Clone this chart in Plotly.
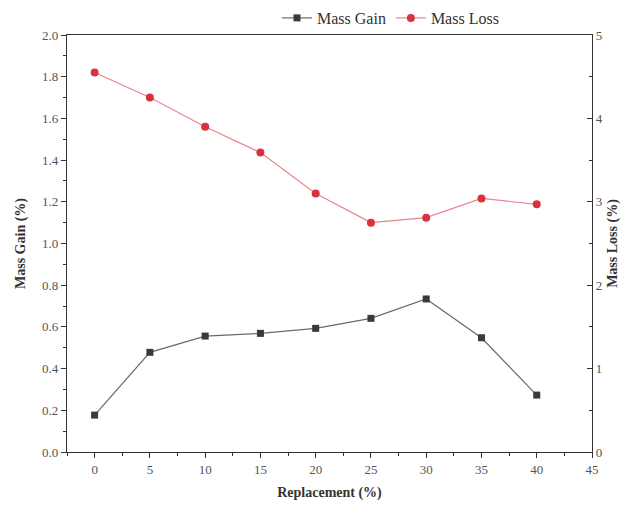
import plotly.graph_objects as go

replacement = [0, 5, 10, 15, 20, 25, 30, 35, 40]
mass_gain = [0.177, 0.478, 0.556, 0.569, 0.593, 0.641, 0.734, 0.548, 0.273]
mass_loss = [4.55, 4.25, 3.90, 3.59, 3.10, 2.75, 2.81, 3.04, 2.97]

font_family = "Liberation Serif, Times New Roman, serif"

fig = go.Figure()
fig.add_trace(go.Scatter(
    x=replacement, y=mass_gain, name="Mass Gain", mode="lines+markers",
    line=dict(color="#6a6a6a", width=1.2),
    marker=dict(symbol="square", size=7, color="#3a3a3a"),
    yaxis="y"))
fig.add_trace(go.Scatter(
    x=replacement, y=mass_loss, name="Mass Loss", mode="lines+markers",
    line=dict(color="#e8868d", width=1.2),
    marker=dict(symbol="circle", size=8, color="#d8323f"),
    yaxis="y2"))

axis_common = dict(showline=True, linecolor="#333", linewidth=1.2,
                   showgrid=False, zeroline=False, automargin=False,
                   tickfont=dict(family=font_family, size=13, color="#555"),
                   ticklen=5, tickcolor="#333")
title_font = dict(family=font_family, size=14, color="#333")

fig.update_layout(
    width=624, height=508,
    margin=dict(l=67, r=32, t=35, b=56, autoexpand=False),
    paper_bgcolor="white", plot_bgcolor="white",
    font=dict(family=font_family, color="#333"),
    showlegend=True,
    legend=dict(orientation="h", x=0.40, xanchor="left", y=1.0, yanchor="bottom",
                font=dict(family=font_family, size=16, color="#333"),
                bgcolor="rgba(0,0,0,0)", itemwidth=30, tracegroupgap=0),
    xaxis=dict(range=[-2.5, 45], tickvals=[0, 5, 10, 15, 20, 25, 30, 35, 40, 45],
               ticks="outside", mirror=True,
               minor=dict(ticks="outside", ticklen=3, dtick=2.5, tick0=0, tickcolor="#333"),
               title=dict(text="<b>Replacement (%)</b>", font=title_font, standoff=11),
               **axis_common),
    yaxis=dict(range=[0, 2.0], dtick=0.2, tickformat=".1f", ticks="outside",
               minor=dict(ticks="outside", ticklen=3, dtick=0.1, tickcolor="#333"),
               title=dict(text="<b>Mass Gain (%)</b>", font=title_font, standoff=13),
               **axis_common),
    yaxis2=dict(range=[0, 5], dtick=1, overlaying="y", side="right", ticks="inside",
                minor=dict(ticks="inside", ticklen=3, dtick=0.5, tickcolor="#333"),
                title=dict(text="<b>Mass Loss (%)</b>", font=title_font, standoff=5),
                **axis_common),
)

fig.write_html("out.html")
